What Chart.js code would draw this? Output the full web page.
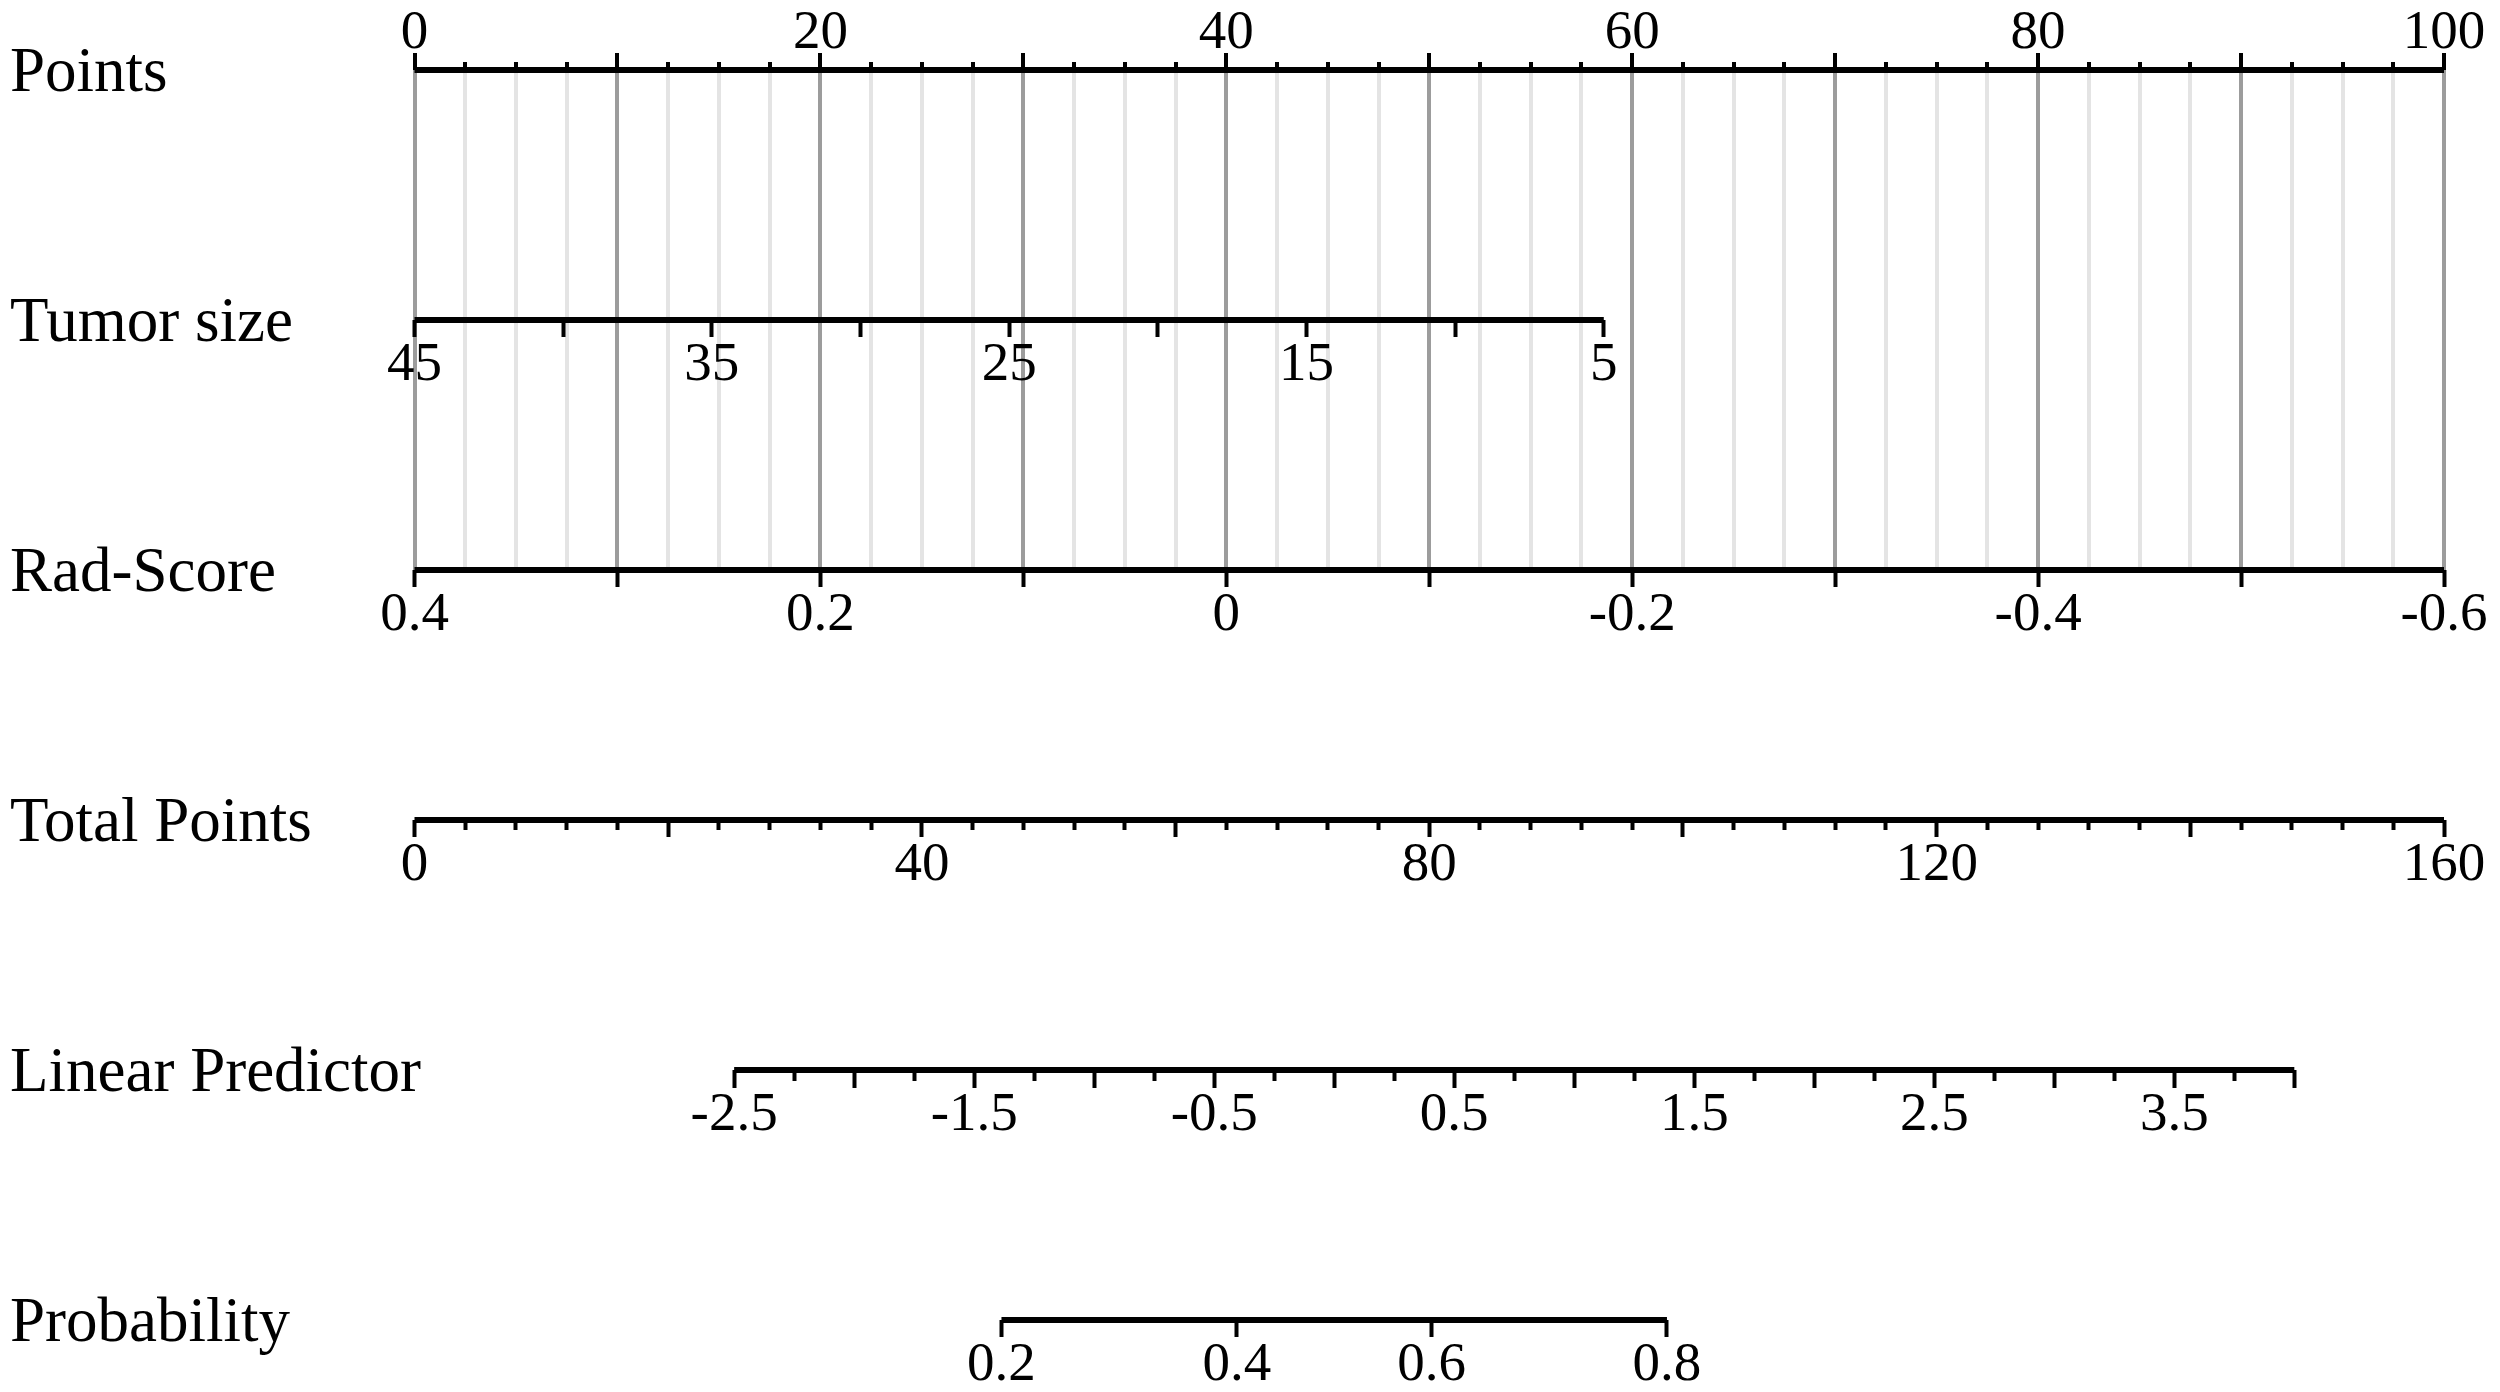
<!DOCTYPE html>
<html>
<head>
<meta charset="utf-8">
<title>Nomogram</title>
<script src="https://cdn.jsdelivr.net/npm/chart.js@4.4.1/dist/chart.umd.min.js"></script>
<style>
  html, body { margin: 0; padding: 0; background: #fff; }
  canvas { display: block; }
</style>
</head>
<body>
<canvas id="nomogram" width="2500" height="1392"></canvas>
<script>
// Nomogram: tumor size + rad-score -> total points -> linear predictor -> probability

const rowNames = ['Points', 'Tumor size', 'Rad-Score', 'Total Points', 'Linear Predictor', 'Probability'];

// Points row (0..100)
const pointsRange = [0, 100];
const pointsStep = 2.5;
const pointsMajor = 10;
const pointsLabels = [0, 20, 40, 60, 80, 100];

// Tumor size: values and the points they map to
const tumorValues = [45, 5];
const tumorPoints = [0, 58.6];
const tumorStep = 5;
const tumorLabels = [45, 35, 25, 15, 5];

// Rad-Score
const radValues = [0.4, -0.6];
const radPoints = [0, 100];
const radStep = 0.1;
const radLabels = [0.4, 0.2, 0, -0.2, -0.4, -0.6];

// Total points (0..160)
const totalRange = [0, 160];
const totalStep = 4;
const totalMajor = 20;
const totalLabels = [0, 40, 80, 120, 160];

// Linear predictor: values and the total points they sit at
const lpValues = [-2.5, 4.0];
const lpTotalPoints = [25.2, 148.2];
const lpStep = 0.25;
const lpMajor = 0.5;
const lpLabels = [-2.5, -1.5, -0.5, 0.5, 1.5, 2.5, 3.5];

// Probability (logit of the linear predictor)
const probLabels = [0.2, 0.4, 0.6, 0.8];

// ---- helpers ----
const near = (a, b) => Math.abs(a - b) < 1e-6;
const isMult = (v, m) => near(v / m, Math.round(v / m));
const fmt = v => String(Math.round(v * 100) / 100);
const logit = p => Math.log(p / (1 - p));
const expit = v => 1 / (1 + Math.exp(-v));
const labelIf = (list, v, text) => list.some(l => near(l, v)) ? text : '';

function steps(from, to, by) {
    const out = [];
    const n = Math.round(Math.abs(to - from) / by);
    const dir = to >= from ? 1 : -1;
    for (let i = 0; i <= n; i++) out.push(Math.round((from + dir * i * by) * 1e6) / 1e6);
    return out;
}

// value range of a row across the whole width of its reference scale
function spanFor(vals, at, lo, hi) {
    const k = (vals[1] - vals[0]) / (at[1] - at[0]);
    const a = vals[0] + (lo - at[0]) * k;
    const b = vals[0] + (hi - at[0]) * k;
    return { min: Math.min(a, b), max: Math.max(a, b), reverse: a > b };
}

const serif = "'Liberation Serif', 'Times New Roman', serif";
const tickFont = { family: serif, size: 55, lineHeight: 1 };
const rowFont = { family: serif, size: 63 };
const labelColWidth = 404.5;

function rowAxis(row, span, tickVals, o) {
    return {
        type: 'linear',
        axis: 'x',
        position: { y: row },
        min: span.min,
        max: span.max,
        reverse: span.reverse,
        bounds: 'data',
        afterBuildTicks: s => { s.ticks = tickVals.map(v => ({ value: v })); },
        ticks: {
            autoSkip: false, maxRotation: 0, minRotation: 0,
            padding: 18 - o.len,
            color: '#000',
            font: tickFont,
            callback: v => o.label(v)
        },
        grid: {
            drawOnChartArea: false,
            drawTicks: true,
            tickLength: o.len,
            tickWidth: 4,
            tickColor: '#000',
            tickBorderDash: c => (c.tick && o.isMinor && o.isMinor(c.tick.value)) ? [o.minorLen, 300] : []
        },
        border: { display: false }
    };
}

function axisLine(xAxisID, row, from, to) {
    return {
        xAxisID, yAxisID: 'y',
        data: [{ x: from, y: row }, { x: to, y: row }],
        showLine: true,
        borderColor: '#000',
        borderWidth: 6,
        pointRadius: 0,
        pointHoverRadius: 0,
        clip: false
    };
}

const tumorSpan = spanFor(tumorValues, tumorPoints, pointsRange[0], pointsRange[1]);
const radSpan = spanFor(radValues, radPoints, pointsRange[0], pointsRange[1]);
const lpSpan = spanFor(lpValues, lpTotalPoints, totalRange[0], totalRange[1]);

const ctx = document.getElementById('nomogram').getContext('2d');

new Chart(ctx, {
    type: 'scatter',
    data: {
        datasets: [
            axisLine('xPoints', 0, pointsRange[0], pointsRange[1]),
            axisLine('xTumor', 1, tumorValues[0], tumorValues[1]),
            axisLine('xRad', 2, radValues[0], radValues[1]),
            axisLine('xTotal', 3, totalRange[0], totalRange[1]),
            axisLine('xLP', 4, lpValues[0], lpValues[1]),
            axisLine('xProb', 5, logit(probLabels[0]), logit(probLabels[probLabels.length - 1]))
        ]
    },
    options: {
        responsive: false,
        animation: false,
        devicePixelRatio: 1,
        events: [],
        layout: { padding: { top: 0, left: 10, right: 56, bottom: 72 } },
        plugins: {
            legend: { display: false },
            tooltip: { enabled: false }
        },
        scales: {
            xPoints: {
                type: 'linear',
                axis: 'x',
                position: 'top',
                min: pointsRange[0],
                max: pointsRange[1],
                bounds: 'data',
                afterBuildTicks: s => { s.ticks = steps(pointsRange[0], pointsRange[1], pointsStep).map(v => ({ value: v })); },
                afterFit: s => { s.height = 70; },
                ticks: {
                    autoSkip: false, maxRotation: 0, minRotation: 0,
                    padding: -8,
                    color: '#000',
                    font: tickFont,
                    callback: v => labelIf(pointsLabels, v, fmt(v))
                },
                grid: {
                    drawOnChartArea: true,
                    drawTicks: true,
                    tickLength: 17,
                    tickWidth: 4,
                    tickColor: '#000',
                    lineWidth: 4,
                    color: c => (c.tick && isMult(c.tick.value, pointsMajor)) ? '#9c9c9c' : '#e4e4e4',
                    tickBorderDash: c => (c.tick && !isMult(c.tick.value, pointsMajor)) ? [8, 9] : [],
                    tickBorderDashOffset: c => (c.tick && !isMult(c.tick.value, pointsMajor)) ? 8 : 0
                },
                // grid lines run from the Points row down to the Rad-Score row only
                border: { display: false, dash: [500, 5000] }
            },
            xTumor: rowAxis(1, tumorSpan, steps(tumorValues[0], tumorValues[1], tumorStep), {
                len: 17,
                label: v => labelIf(tumorLabels, v, fmt(v))
            }),
            xRad: rowAxis(2, radSpan, steps(radValues[0], radValues[1], radStep), {
                len: 17,
                label: v => labelIf(radLabels, v, fmt(v))
            }),
            xTotal: rowAxis(3, { min: totalRange[0], max: totalRange[1], reverse: false },
                steps(totalRange[0], totalRange[1], totalStep), {
                len: 17,
                minorLen: 10,
                isMinor: v => !isMult(v, totalMajor),
                label: v => labelIf(totalLabels, v, fmt(v))
            }),
            xLP: rowAxis(4, lpSpan, steps(lpValues[0], lpValues[1], lpStep), {
                len: 18,
                minorLen: 11,
                isMinor: v => !isMult(v, lpMajor),
                label: v => labelIf(lpLabels, v, fmt(v))
            }),
            xProb: rowAxis(5, lpSpan, probLabels.map(logit), {
                len: 17,
                label: v => fmt(Math.round(expit(v) * 10) / 10)
            }),
            y: {
                type: 'linear',
                position: 'left',
                min: 0,
                max: rowNames.length - 1,
                reverse: true,
                afterBuildTicks: s => { s.ticks = rowNames.map((_, i) => ({ value: i })); },
                afterFit: s => { s.width = labelColWidth; },
                ticks: {
                    autoSkip: false,
                    // mirrored so the row names are not clipped to the axis box;
                    // the negative padding puts them back at the left margin
                    mirror: true,
                    padding: -labelColWidth,
                    labelOffset: 4,
                    color: '#000',
                    font: rowFont,
                    callback: v => rowNames[v] || ''
                },
                grid: { display: false },
                border: { display: false }
            }
        }
    }
});
</script>
</body>
</html>
